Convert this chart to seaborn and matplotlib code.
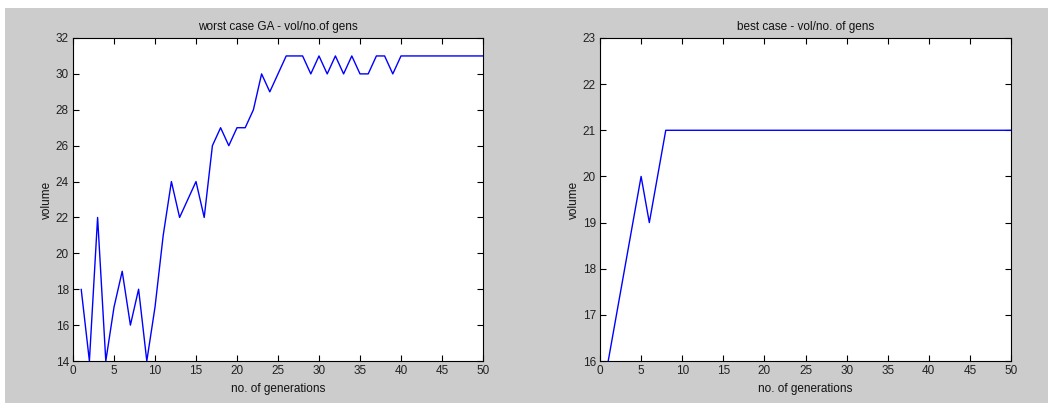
import numpy as np
import pandas as pd
import matplotlib
matplotlib.use("Agg")
import matplotlib.pyplot as plt
import seaborn as sns
from matplotlib.patches import Rectangle

# ---- data ----
gens_worst = list(range(1, 51))
vol_worst = [18, 14, 22, 14, 17, 19, 16, 18, 14, 17,
             21, 24, 22, 23, 24, 22, 26, 27, 26, 27,
             27, 28, 30, 29, 30, 31, 31, 31, 30, 31,
             30, 31, 30, 31, 30, 30, 31, 31, 30, 31,
             31, 31, 31, 31, 31, 31, 31, 31, 31, 31]
gens_best = list(range(1, 51))
vol_best = [16, 17, 18, 19, 20, 19, 20, 21] + [21] * 42

title_worst = "worst case GA - vol/no.of gens"
title_best = "best case - vol/no. of gens"
xlabel = "no. of generations"
ylabel = "volume"
xticks = [0, 5, 10, 15, 20, 25, 30, 35, 40, 45, 50]
yticks_worst = [14, 16, 18, 20, 22, 24, 26, 28, 30, 32]
yticks_best = [16, 17, 18, 19, 20, 21, 22, 23]

sns.set_style("ticks")
plt.rcParams['font.family'] = ['Liberation Sans', 'DejaVu Sans']
plt.rcParams['font.size'] = 8.5

W, H = 1048, 403
fig = plt.figure(figsize=(W / 100, H / 100), dpi=100, facecolor="white")
fig.patches.append(Rectangle((5 / W, 0), 1, (H - 8) / H, transform=fig.transFigure,
                             facecolor="#cccccc", edgecolor="none", zorder=-10))

ax1 = fig.add_axes([73 / W, (H - 361) / H, 410 / W, 323 / H])
ax2 = fig.add_axes([600 / W, (H - 361) / H, 411 / W, 323 / H])

df1 = pd.DataFrame({"gen": gens_worst, "vol": vol_worst})
df2 = pd.DataFrame({"gen": gens_best, "vol": vol_best})

for ax, df, title, yt in [(ax1, df1, title_worst, yticks_worst),
                          (ax2, df2, title_best, yticks_best)]:
    sns.lineplot(data=df, x="gen", y="vol", ax=ax, color="#0000ff", linewidth=1.0)
    ax.set_facecolor("white")
    ax.set_xlim(0, 50)
    ax.set_ylim(yt[0], yt[-1])
    ax.set_xticks(xticks)
    ax.set_yticks(yt)
    ax.set_title(title, fontsize=8.5, pad=6, color="#111111")
    ax.set_xlabel(xlabel, fontsize=8.5, labelpad=4, color="#111111")
    ax.set_ylabel(ylabel, fontsize=8.5, labelpad=2, color="#111111")
    ax.tick_params(direction="in", length=4, width=0.8, top=True, right=True,
                   labelsize=8.5, colors="black", labelcolor="#222222", pad=3)
    for s in ax.spines.values():
        s.set_visible(True)
        s.set_color("black")
        s.set_linewidth(0.8)

fig.savefig("out.png", dpi=100, facecolor=fig.get_facecolor())
